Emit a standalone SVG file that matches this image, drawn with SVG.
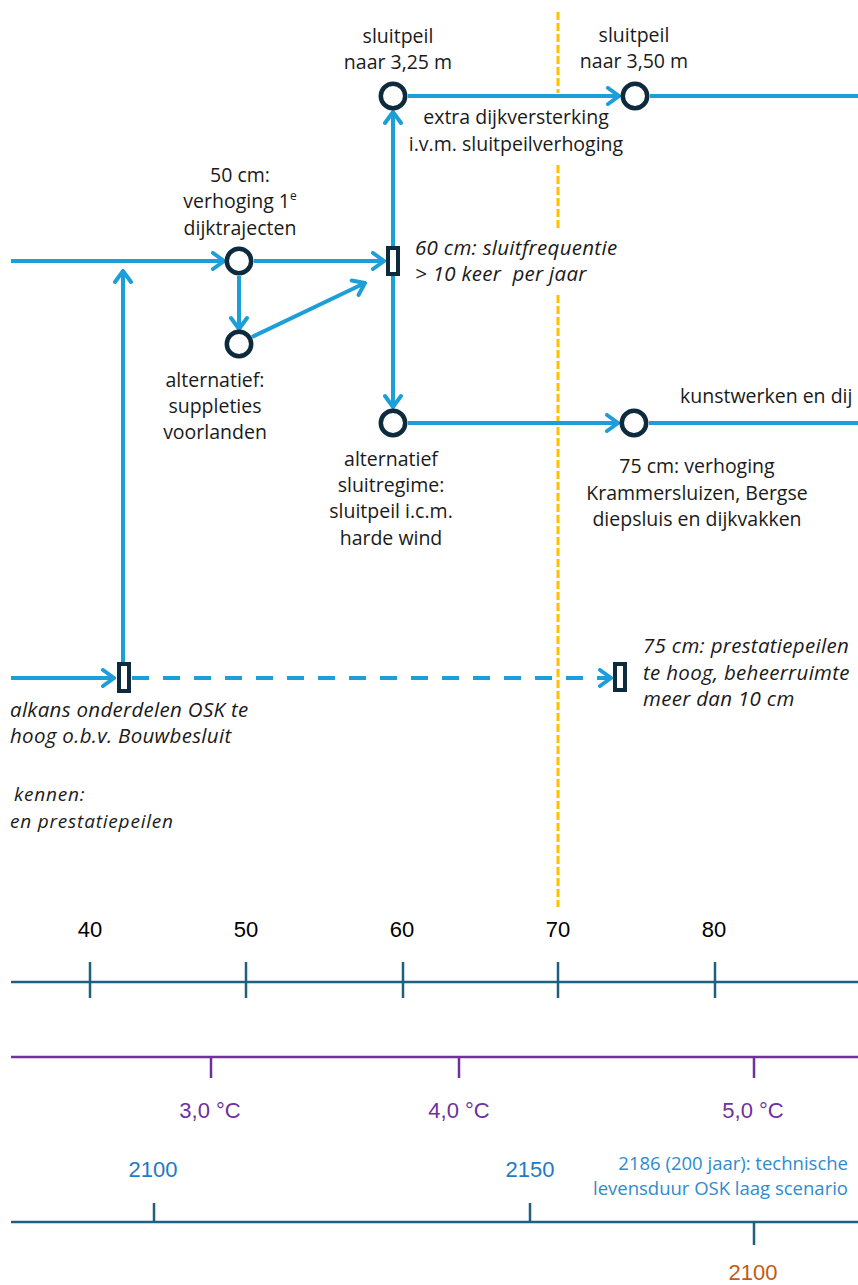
<svg xmlns="http://www.w3.org/2000/svg" width="858" height="1285" viewBox="0 0 858 1285">
<defs>
<marker id="arr" viewBox="-14 -10 16 20" refX="0" refY="0" markerWidth="16" markerHeight="20" markerUnits="userSpaceOnUse" orient="auto">
<path d="M-11,-8 L0,0 L-11,8" fill="none" stroke="#1c9fd8" stroke-width="4" stroke-linecap="round" stroke-linejoin="miter"/>
</marker>
<style>
.ln{fill:none;stroke:#1c9fd8;stroke-width:4}
.dash{stroke-dasharray:17 14}
.nd{fill:#fff;stroke:#0e2b3d;stroke-width:4.5}
.rn{fill:#fff;stroke:#0e2b3d;stroke-width:4}
.t{font-family:"Open Sans","Noto Sans",sans-serif;font-size:19.5px;fill:#1a1a1a}
.c{text-anchor:middle}
.i{font-style:italic;font-size:20.5px;letter-spacing:0.3px}
.s{font-size:19px;letter-spacing:0.8px}
.ax{stroke:#1f5f7f;stroke-width:2.5;fill:none}
.pax{stroke:#7030a0;stroke-width:2.5;fill:none}
.an{font-family:"Liberation Sans",Arial,sans-serif;font-size:22px;text-anchor:middle}
.yel{stroke:#ffc000;stroke-width:3;stroke-dasharray:8 3;fill:none}
.note{font-family:"Open Sans","Noto Sans",sans-serif;font-size:18.5px;text-anchor:end;fill:#2e8bd0}
</style>
</defs>
<rect width="858" height="1285" fill="#fff"/>

<g id="marker-line">
<path class="yel" d="M558,12 V93 M558,165 V228 M558,295 V907"/>
</g>

<g id="connectors">
<path class="ln" d="M11,261 H224" marker-end="url(#arr)"/>
<path class="ln" d="M254,261 H384" marker-end="url(#arr)"/>
<path class="ln" d="M239,276 V329" marker-end="url(#arr)"/>
<path class="ln" d="M252,337 L365,283" marker-end="url(#arr)"/>
<path class="ln" d="M393,246 V112" marker-end="url(#arr)"/>
<path class="ln" d="M393,276 V407" marker-end="url(#arr)"/>
<path class="ln" d="M408,96 H619" marker-end="url(#arr)"/>
<path class="ln" d="M650,96 H858"/>
<path class="ln" d="M408,423 H618" marker-end="url(#arr)"/>
<path class="ln" d="M649,423 H858"/>
<path class="ln" d="M123,662 V271" marker-end="url(#arr)"/>
<path class="ln" d="M11,678 H114" marker-end="url(#arr)"/>
<path class="ln dash" d="M132,678 H611" marker-end="url(#arr)"/>
</g>

<g id="n-sluitpeil325">
<circle class="nd" cx="393" cy="96" r="12.2"/>
<text class="t c" x="398" y="43">sluitpeil</text>
<text class="t c" x="398" y="69">naar 3,25 m</text>
</g>
<g id="n-sluitpeil350">
<circle class="nd" cx="635" cy="96" r="12.2"/>
<text class="t c" x="634" y="42">sluitpeil</text>
<text class="t c" x="634" y="68">naar 3,50 m</text>
</g>
<g id="l-extra">
<text class="t c" x="516" y="124">extra dijkversterking</text>
<text class="t c" x="516" y="151">i.v.m. sluitpeilverhoging</text>
</g>
<g id="n-50cm">
<circle class="nd" cx="239" cy="261" r="12.2"/>
<text class="t c" x="240" y="182">50 cm:</text>
<text class="t c" x="240" y="208">verhoging 1<tspan dy="-8" font-size="12">e</tspan></text>
<text class="t c" x="240" y="235">dijktrajecten</text>
</g>
<g id="n-suppleties">
<circle class="nd" cx="239" cy="344" r="12.2"/>
<text class="t c" x="215" y="387">alternatief:</text>
<text class="t c" x="215" y="413">suppleties</text>
<text class="t c" x="215" y="439">voorlanden</text>
</g>
<g id="n-60cm">
<rect class="rn" x="388" y="248" width="10" height="26"/>
<text class="t i" x="415" y="255">60 cm: sluitfrequentie</text>
<text class="t i" x="415" y="281" xml:space="preserve">&gt; 10 keer  per jaar</text>
</g>
<g id="n-sluitregime">
<circle class="nd" cx="393" cy="423" r="12.2"/>
<text class="t c" x="391" y="466">alternatief</text>
<text class="t c" x="391" y="492">sluitregime:</text>
<text class="t c" x="391" y="518">sluitpeil i.c.m.</text>
<text class="t c" x="391" y="545">harde wind</text>
</g>
<g id="n-75cm">
<circle class="nd" cx="634" cy="423" r="12.2"/>
<text class="t" x="680" y="403">kunstwerken en dij</text>
<text class="t c" x="697" y="473">75 cm: verhoging</text>
<text class="t c" x="697" y="500">Krammersluizen, Bergse</text>
<text class="t c" x="697" y="526">diepsluis en dijkvakken</text>
</g>
<g id="n-faalkans">
<rect class="rn" x="119" y="664" width="10" height="27"/>
<text class="t i" x="10" y="717">alkans onderdelen OSK te</text>
<text class="t i" x="10" y="743">hoog o.b.v. Bouwbesluit</text>
<text class="t i s" x="14" y="801">kennen:</text>
<text class="t i s" x="10" y="828">en prestatiepeilen</text>
</g>
<g id="n-75cm-prestatie">
<rect class="rn" x="615" y="664" width="10" height="26"/>
<text class="t i" x="643" y="653">75 cm: prestatiepeilen</text>
<text class="t i" x="643" y="680">te hoog, beheerruimte</text>
<text class="t i" x="643" y="706">meer dan 10 cm</text>
</g>

<g id="axis-cm">
<path class="ax" d="M11,982 H858 M90,962 V998 M246,962 V998 M403,962 V998 M558,962 V998 M715,962 V998"/>
<text class="an" x="90" y="937" fill="#000">40</text>
<text class="an" x="246" y="937" fill="#000">50</text>
<text class="an" x="402" y="937" fill="#000">60</text>
<text class="an" x="558" y="937" fill="#000">70</text>
<text class="an" x="714" y="937" fill="#000">80</text>
</g>
<g id="axis-temp">
<path class="pax" d="M11,1057 H858 M211,1057 V1078 M459,1057 V1078 M754,1057 V1078"/>
<text class="an" x="210" y="1118" fill="#7030a0">3,0 °C</text>
<text class="an" x="459" y="1118" fill="#7030a0">4,0 °C</text>
<text class="an" x="753" y="1118" fill="#7030a0">5,0 °C</text>
</g>
<g id="axis-year">
<path class="ax" d="M11,1222 H858 M154,1203 V1222 M530,1203 V1222 M754,1222 V1245"/>
<text class="an" x="153" y="1177" fill="#1f7ac4">2100</text>
<text class="an" x="530" y="1177" fill="#1f7ac4">2150</text>
<text class="note" x="848" y="1170">2186 (200 jaar): technische</text>
<text class="note" x="848" y="1195">levensduur OSK laag scenario</text>
<text class="an" x="753" y="1280" fill="#c55a11">2100</text>
</g>
</svg>
